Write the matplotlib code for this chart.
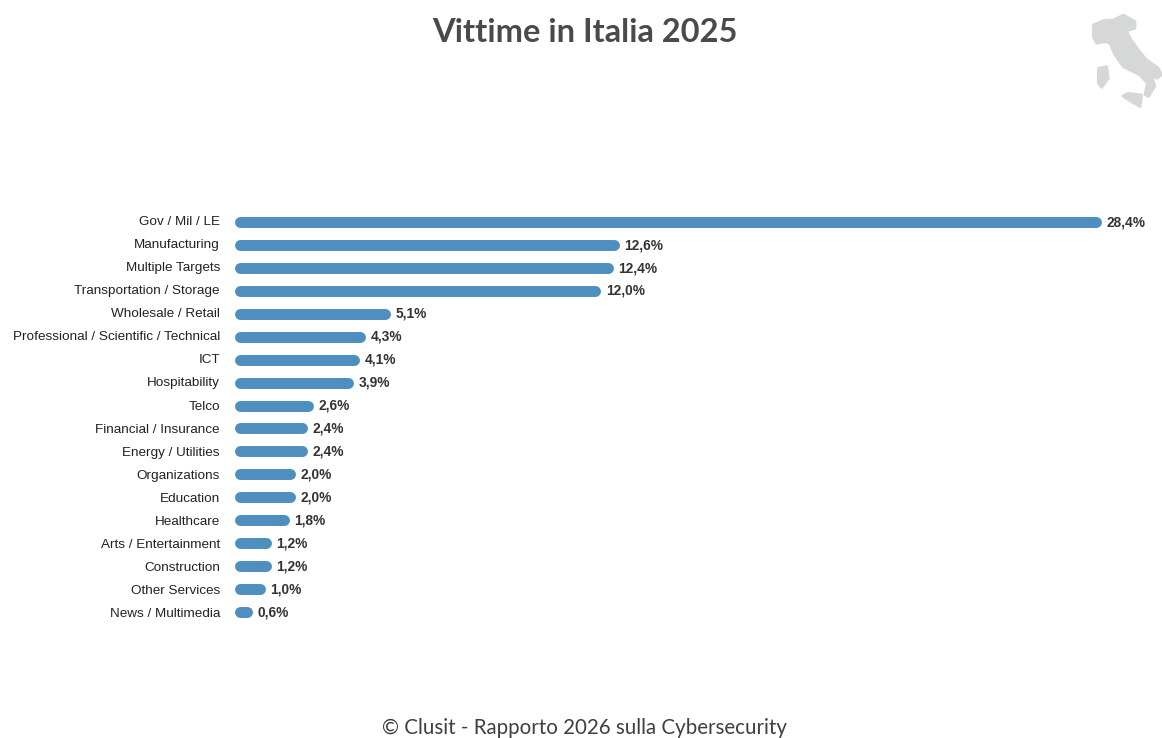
import matplotlib
matplotlib.use("Agg")
import matplotlib.pyplot as plt
from matplotlib.patches import Polygon

sectors = ["Gov / Mil / LE", "Manufacturing", "Multiple Targets", "Transportation / Storage",
           "Wholesale / Retail", "Professional / Scientific / Technical", "ICT", "Hospitability",
           "Telco", "Financial / Insurance", "Energy / Utilities", "Organizations", "Education",
           "Healthcare", "Arts / Entertainment", "Construction", "Other Services", "News / Multimedia"]
shares = [28.4, 12.6, 12.4, 12.0, 5.1, 4.3, 4.1, 3.9, 2.6, 2.4, 2.4, 2.0, 2.0, 1.8, 1.2, 1.2, 1.0, 0.6]

# rough outline of the country, in pixels of the small logo box
mainland = [(100, 75), (130, 62), (160, 60), (190, 45), (225, 65), (225, 85), (200, 92), (208, 112),
            (235, 150), (258, 178), (295, 205), (305, 225), (290, 235), (272, 225), (285, 258),
            (265, 290), (255, 283), (262, 250), (240, 225), (190, 200), (165, 165), (150, 130),
            (135, 125), (110, 130), (100, 110)]
sardinia = [(115, 205), (140, 200), (145, 235), (125, 262), (115, 250)]
sicily = [(188, 288), (205, 280), (245, 285), (240, 320), (215, 305)]

W, H = 1162, 738
BLUE = "#4f8fbf"
fig = plt.figure(figsize=(W / 100, H / 100), dpi=100, facecolor="white")

# axes spans the bar area: x=0 sits near 235px, 28.4 near 1102px
left, right = 234.5, 1101.5
top, bottom = 210.5, 623.5
ax = fig.add_axes([left / W, 1 - bottom / H, (right - left) / W, (bottom - top) / H])
ax.set_xlim(0, shares[0])
ax.set_ylim(len(shares) - 0.5, -0.5)
ax.axis("off")

px = shares[0] / (right - left)
cap = 5.5 * px
for i, (name, val) in enumerate(zip(sectors, shares)):
    ax.plot([cap, max(val - cap, cap + 0.001)], [i, i], color=BLUE, lw=7.9,
            solid_capstyle="round", clip_on=False)
    # the category rows run a little wider apart than the bars
    ax.annotate(name, (0, i), xytext=(-10.5, -2.2 - 0.085 * i), textcoords="offset points", ha="right",
                va="baseline", fontsize=9.7, color="#222222", family="Liberation Sans",
                annotation_clip=False)
    ax.annotate(f"{val:.1f}%".replace(".", ","), (val, i), xytext=(3.6, -3), textcoords="offset points",
                ha="left", va="baseline", fontsize=9.9, fontweight="bold", color="#333333",
                family="Liberation Sans", annotation_clip=False)

fig.text(585 / W, 1 - 32 / H, "Vittime in Italia 2025", ha="center", va="center",
         fontsize=23.5, fontweight="bold", color="#4a4a4a", family="Lato")
fig.text(585 / W, 1 - 728 / H, "© Clusit - Rapporto 2026 sulla Cybersecurity", ha="center", va="center",
         fontsize=14.8, color="#3f3f3f", family="Lato")

# logo box, 3 units per pixel
logo = fig.add_axes([1060 / W, 1 - 120 / H, 102 / W, 120 / H])
logo.set_xlim(0, 306)
logo.set_ylim(360, 0)
logo.axis("off")
for shape in (mainland, sardinia, sicily):
    logo.add_patch(Polygon(shape, closed=True, fc="#d6d8d8", ec="#d6d8d8", lw=2, joinstyle="round"))

fig.savefig("out.png", dpi=100)
